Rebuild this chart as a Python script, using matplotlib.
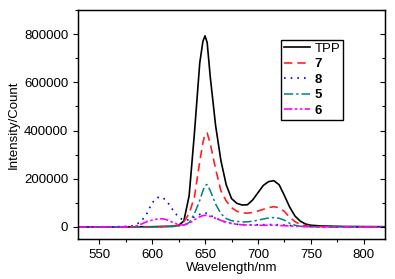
import matplotlib
matplotlib.use("Agg")
import matplotlib.pyplot as plt
from matplotlib.ticker import MultipleLocator

plt.rcParams['font.family'] = ['Liberation Sans', 'DejaVu Sans']

# wavelength grid (nm) shared by all spectra
wl = [530, 560, 580, 585, 590, 595, 600, 605, 610, 615, 620, 625, 630, 635,
      640, 645, 648, 650, 652, 655, 660, 665, 670, 675, 680, 685, 690, 695,
      700, 705, 710, 715, 720, 725, 730, 735, 740, 745, 750, 760, 780, 820]

tpp = [0, 0, 500, 500, 800, 800, 1000, 1500, 2000, 2500, 3000, 6000, 25000, 130000,
       390000, 680000, 770000, 793000, 765000, 620000, 420000, 275000, 175000, 118000,
       98000, 91000, 92000, 112000, 142000, 172000, 188000, 192000, 175000, 130000,
       82000, 45000, 24000, 12000, 7000, 4000, 2000, 1000]
s7 = [0, 0, 0, 0, 0, 0, 0, 500, 1000, 2000, 3000, 8000, 22000, 55000,
      125000, 270000, 350000, 385000, 390000, 345000, 240000, 150000, 108000, 80000,
      65000, 59000, 57000, 60000, 66000, 73000, 80000, 84000, 80000, 64000,
      40000, 22000, 10000, 5000, 2000, 1000, 500, 0]
s8 = [0, 0, 3000, 10000, 25000, 55000, 100000, 122000, 123000, 100000, 68000, 40000, 28000, 30000,
      42000, 52000, 57000, 58000, 56000, 48000, 37000, 27000, 19000, 14000,
      11000, 10000, 9000, 9000, 9000, 9500, 10000, 10000, 9000, 7500,
      6000, 4500, 3000, 2000, 1500, 1000, 500, 0]
s5 = [0, 0, 0, 0, 0, 0, 0, 500, 1000, 1500, 2000, 4000, 8000, 18000,
      55000, 110000, 150000, 172000, 176000, 150000, 95000, 55000, 35000, 26000,
      23000, 21000, 21000, 24000, 28000, 33000, 37000, 39000, 36000, 28000,
      15000, 7000, 3000, 1500, 1000, 500, 0, 0]
s6 = [0, 0, 1000, 4000, 12000, 22000, 28000, 33000, 34000, 28000, 18000, 9000, 8000, 15000,
      30000, 42000, 47000, 48000, 47000, 44000, 36000, 27000, 20000, 15000,
      11000, 9000, 8000, 7500, 7000, 7000, 7000, 7000, 6500, 5000,
      4000, 3000, 2000, 1500, 1000, 500, 0, 0]

labels = ['TPP', '7', '8', '5', '6']

fig = plt.figure(figsize=(3.95, 2.79), dpi=100)
ax = fig.add_axes([78/395, 40/279, 307/395, 229/279])

ax.plot(wl, tpp, color='black', lw=1.2, label=labels[0])
ax.plot(wl, s7, color='#ff2020', lw=1.2, ls=(0, (5, 3)), label=labels[1])
ax.plot(wl, s8, color='#0000ff', lw=1.2, ls=(0, (1, 3)), label=labels[2])
ax.plot(wl, s5, color='#008080', lw=1.1, ls=(0, (6, 2, 1.5, 2)), label=labels[3])
ax.plot(wl, s6, color='#ff00ff', lw=1.2, ls=(0, (5, 1.5, 1.5, 1.5, 1.5, 1.5)), label=labels[4])

ax.set_xlim(530, 820)
ax.set_ylim(-50000, 900000)
ax.xaxis.set_major_locator(MultipleLocator(50))
ax.xaxis.set_minor_locator(MultipleLocator(25))
ax.yaxis.set_major_locator(MultipleLocator(200000))
ax.yaxis.set_minor_locator(MultipleLocator(100000))
ax.tick_params(which='both', direction='out', labelsize=9.5, right=False, top=False)
ax.tick_params(which='major', length=3.5, width=0.8)
ax.tick_params(which='minor', length=2, width=0.8)

# right-hand ticks point inward
ax2 = ax.twinx()
ax2.set_ylim(ax.get_ylim())
ax2.yaxis.set_major_locator(MultipleLocator(200000))
ax2.yaxis.set_minor_locator(MultipleLocator(100000))
ax2.tick_params(which='both', direction='in', labelright=False)
ax2.tick_params(which='major', length=3.5, width=0.8)
ax2.tick_params(which='minor', length=2, width=0.8)

ax.set_xlabel('Wavelength/nm', fontsize=9.5, labelpad=1)
ax.set_ylabel('Intensity/Count', fontsize=9.5, labelpad=3)
for s in ax.spines.values():
    s.set_linewidth(1.0)

leg = ax.legend(loc='upper right', bbox_to_anchor=(0.863, 0.869), borderaxespad=0,
                fontsize=9.5, handlelength=2.0, handletextpad=0.35, labelspacing=0.25,
                borderpad=0.2, fancybox=False, framealpha=1, edgecolor='black')
leg.get_frame().set_linewidth(1.0)
for txt in leg.get_texts()[1:]:
    txt.set_fontweight('bold')

fig.savefig('out.png', dpi=100)
